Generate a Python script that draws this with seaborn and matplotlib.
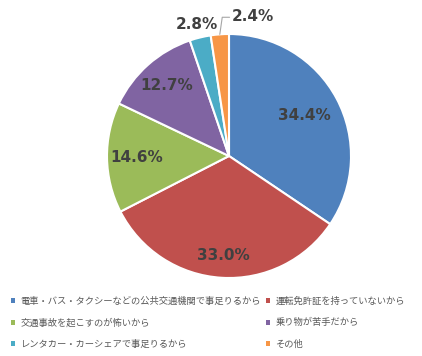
import numpy as np
import matplotlib
matplotlib.use("Agg")
import matplotlib.pyplot as plt
from matplotlib.patches import Patch
import seaborn as sns

sns.set_theme(style="white")
plt.rcParams['font.family'] = ['Noto Sans CJK JP', 'DejaVu Sans']

# Reasons for not owning a car (share of respondents, %)
categories = [
    "電車・バス・タクシーなどの公共交通機関で事足りるから",
    "運転免許証を持っていないから",
    "交通事故を起こすのが怖いから",
    "乗り物が苦手だから",
    "レンタカー・カーシェアで事足りるから",
    "その他",
]
shares = [34.4, 33.0, 14.6, 12.7, 2.8, 2.4]
labels = ["34.4%", "33.0%", "14.6%", "12.7%", "2.8%", "2.4%"]

colors = ["#4F81BD", "#C0504D", "#9BBB59", "#8064A2", "#4BACC6", "#F79646"]
label_radius = [0.70, 0.82, 0.76, 0.77, 1.11, 1.17]

W, H = 422, 356
fig = plt.figure(figsize=(W / 100, H / 100), dpi=100)

R_px = 122
cx, cy = 229, 156
L = 1.2
side = 2 * L * R_px
ax = fig.add_axes([(cx - side / 2) / W, (H - cy - side / 2) / H, side / W, side / H])

wedges, _ = ax.pie(
    shares, colors=colors, startangle=90, counterclock=False, radius=1.0,
    wedgeprops=dict(edgecolor="white", linewidth=1.5),
)
ax.set_xlim(-L, L)
ax.set_ylim(-L, L)
ax.set_aspect("equal")
ax.axis("off")

for i, (w, lab) in enumerate(zip(wedges, labels)):
    mid = np.deg2rad((w.theta1 + w.theta2) / 2)
    if i == len(wedges) - 1:
        # small slice: label sits outside with an elbow leader line
        ex, ey = np.cos(mid), np.sin(mid)
        tx, ty = ex + 0.02, ey + 0.14
        ax.plot([ex, tx, tx + 0.06], [ey, ty, ty], color="#A6A6A6", lw=0.8,
                clip_on=False)
        ax.text(tx + 0.08, ty + 0.01, lab, ha="left", va="center",
                fontsize=11, fontweight="bold", color="#404040",
                family="DejaVu Sans")
    else:
        r = label_radius[i]
        ax.text(r * np.cos(mid), r * np.sin(mid), lab, ha="center", va="center",
                fontsize=11, fontweight="bold", color="#404040",
                family="DejaVu Sans")

# legend reads row by row: reorder for matplotlib's column-major fill
order = [0, 2, 4, 1, 3, 5]
handles = [Patch(facecolor=colors[k], edgecolor="none") for k in order]
leg = fig.legend(
    handles, [categories[k] for k in order], ncol=2, loc="upper left",
    bbox_to_anchor=(8 / W, 1 - 294 / H), frameon=False,
    fontsize=6.7, handlelength=0.45, handleheight=0.45, handletextpad=0.6,
    columnspacing=0.5, labelspacing=1.32, borderaxespad=0.0, borderpad=0.3,
)
for t in leg.get_texts():
    t.set_color("#595959")

fig.savefig("out.png", dpi=100, facecolor="white")
